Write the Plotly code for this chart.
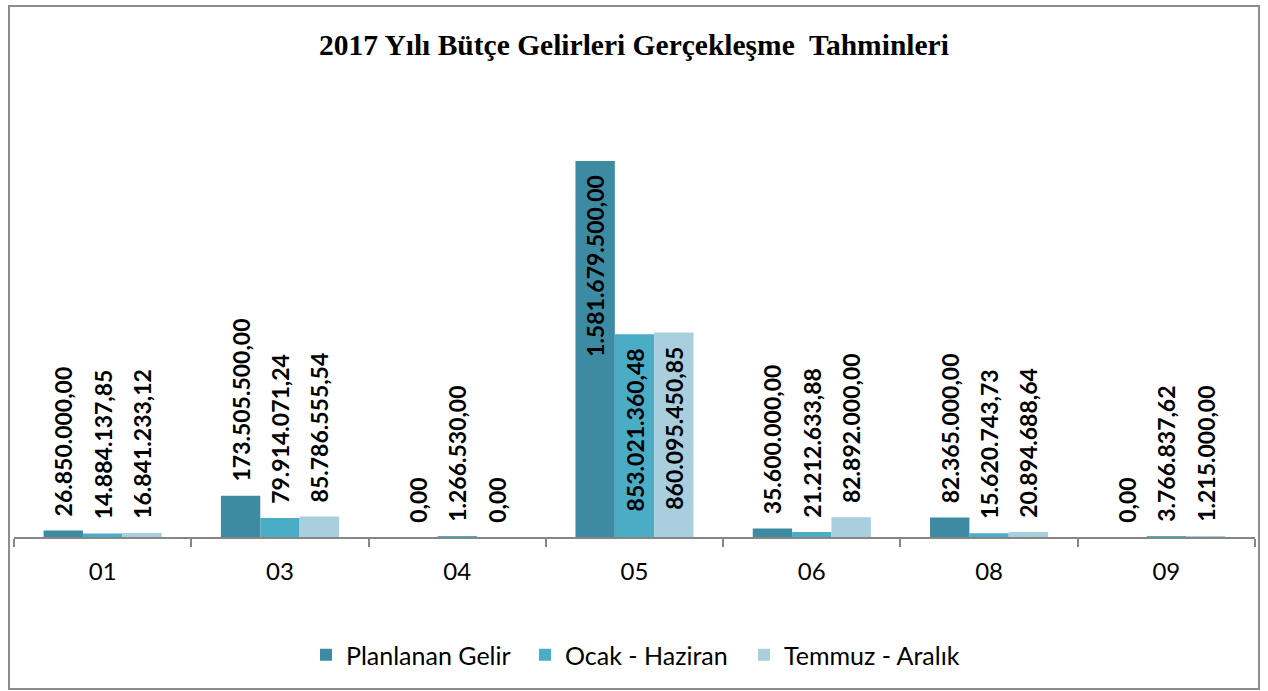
import plotly.graph_objects as go

categories = ["01", "03", "04", "05", "06", "08", "09"]
planlanan = [26850000.00, 173505500.00, 0.00, 1581679500.00, 35600000.00, 82365000.00, 0.00]
ocak_haziran = [14884137.85, 79914071.24, 1266530.00, 853021360.48, 21212633.88, 15620743.73, 3766837.62]
temmuz_aralik = [16841233.12, 85786555.54, 0.00, 860095450.85, 82892000.00, 20894688.64, 1215000.00]
series_names = ["Planlanan Gelir", "Ocak - Haziran", "Temmuz - Aralık"]
colors = ["#3D8BA2", "#4BACC6", "#A9CEDD"]
title = "2017 Yılı Bütçe Gelirleri Gerçekleşme  Tahminleri"


def tr_fmt(v):
    s = f"{v:,.2f}"
    return s.replace(",", "X").replace(".", ",").replace("X", ".")


W, H = 1268, 691
ml, mr, mt, mb = 14, 13, 109, 154
ymax = 1.8e9
lab_font = dict(family="Lato", size=23, color="black", weight="bold")
NB = "\u00a0"

fig = go.Figure()
for name, vals, col in zip(series_names, [planlanan, ocak_haziran, temmuz_aralik], colors):
    positions = ["inside" if v > 5e8 else "outside" for v in vals]
    texts = [(tr_fmt(v) + NB * 2) if v > 5e8 else (NB * 2 + tr_fmt(v)) for v in vals]
    fig.add_trace(go.Bar(
        x=categories, y=vals, name=name, marker=dict(color=col, line=dict(width=0)),
        text=texts, textposition=positions, textangle=-90,
        insidetextanchor="end", constraintext="none", cliponaxis=False,
        textfont=lab_font, insidetextfont=lab_font, outsidetextfont=lab_font,
        hoverinfo="skip",
    ))

ph = H - mt - mb
pw = W - ml - mr
fig.add_shape(type="rect", xref="paper", yref="paper",
              x0=(9 - ml) / pw, x1=(1259 - ml) / pw,
              y0=(H - mb - 689) / ph, y1=(H - mb - 6) / ph,
              line=dict(color="#8C8C8C", width=2), layer="below")

fig.update_layout(
    width=W, height=H,
    margin=dict(l=ml, r=mr, t=mt, b=mb),
    paper_bgcolor="white", plot_bgcolor="white",
    barmode="group", bargap=0.334, bargroupgap=0,
    title=dict(text=f"<b>{title}</b>", x=0.5, xanchor="center", y=1 - 45 / H, yanchor="middle",
               font=dict(family="Liberation Serif", size=29.5, color="black")),
    xaxis=dict(showline=True, linecolor="#868686", linewidth=1.5, ticks="outside",
               tickson="boundaries", ticklen=8, tickcolor="#868686", tickwidth=1.5,
               tickfont=dict(family="Lato", size=24, color="black"), showgrid=False,
               zeroline=False, ticklabelstandoff=12),
    yaxis=dict(visible=False, range=[0, ymax], showgrid=False, zeroline=False),
    legend=dict(orientation="h", x=0.5, xanchor="center", y=(H - mb - 655) / ph, yanchor="middle",
                font=dict(family="Lato", size=25, color="black"), itemwidth=30,
                entrywidth=174, entrywidthmode="pixels", traceorder="normal"),
    showlegend=True,
)

fig.write_html("out.html", config={"displayModeBar": False})
with open("out.html", "r", encoding="utf-8") as f:
    html = f.read()
html = html.replace("<body>", '<body style="margin:0;overflow:hidden">', 1)
with open("out.html", "w", encoding="utf-8") as f:
    f.write(html)
